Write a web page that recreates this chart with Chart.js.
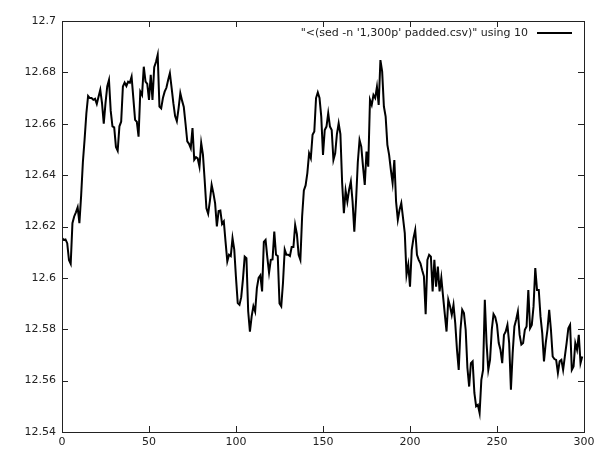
<!DOCTYPE html>
<html>
<head>
<meta charset="utf-8">
<script src="https://cdn.jsdelivr.net/npm/chart.js@4.4.0/dist/chart.umd.min.js"></script>
<style>
  html, body { margin: 0; padding: 0; background: #fff; }
  #chart { display: block; }
</style>
</head>
<body>
<canvas id="chart" width="600" height="450"></canvas>
<script>
// Series label (gnuplot key)
const seriesLabel = "\"<(sed -n '1,300p' padded.csv)\" using 10";

// Column 10 values, rows 0..299
const values = [
  12.6155, 12.6148, 12.6150, 12.6135, 12.6070, 12.6055, 12.6213, 12.6239, 12.6255, 12.6275,
  12.6213, 12.6320, 12.6450, 12.6540, 12.6640, 12.6708, 12.6700, 12.6700, 12.6693, 12.6697,
  12.6677, 12.6705, 12.6732, 12.6680, 12.6600, 12.6680, 12.6745, 12.6770, 12.6650, 12.6590,
  12.6586, 12.6510, 12.6495, 12.6590, 12.6608, 12.6745, 12.6760, 12.6747, 12.6764, 12.6760,
  12.6783, 12.6700, 12.6615, 12.6608, 12.6550, 12.6725, 12.6712, 12.6822, 12.6764, 12.6755,
  12.6693, 12.6790, 12.6693, 12.6820, 12.6840, 12.6868, 12.6667, 12.6660, 12.6700, 12.6725,
  12.6740, 12.6770, 12.6797, 12.6740, 12.6680, 12.6630, 12.6610, 12.6660, 12.6719, 12.6690,
  12.6665, 12.6600, 12.6531, 12.6522, 12.6505, 12.6583, 12.6460, 12.6470, 12.6465, 12.6433,
  12.6525, 12.6480, 12.6380, 12.6271, 12.6250, 12.6300, 12.6362, 12.6330, 12.6290, 12.6200,
  12.6260, 12.6262, 12.6210, 12.6220, 12.6140, 12.6064, 12.6090, 12.6085, 12.6155, 12.6110,
  12.6000, 12.5902, 12.5895, 12.5925, 12.5995, 12.6083, 12.6077, 12.5870, 12.5791, 12.5850,
  12.5890, 12.5869, 12.5960, 12.6000, 12.6010, 12.5947, 12.6140, 12.6148, 12.6080, 12.6020,
  12.6070, 12.6072, 12.6180, 12.6090, 12.6085, 12.5900, 12.5889, 12.5980, 12.6110, 12.6090,
  12.6090, 12.6085, 12.6120, 12.6120, 12.6206, 12.6170, 12.6090, 12.6070, 12.6239, 12.6340,
  12.6360, 12.6408, 12.6485, 12.6466, 12.6557, 12.6570, 12.6700, 12.6722, 12.6700, 12.6628,
  12.6479, 12.6576, 12.6589, 12.6641, 12.6589, 12.6576, 12.6459, 12.6485, 12.6560, 12.6602,
  12.6560, 12.6370, 12.6252, 12.6340, 12.6297, 12.6343, 12.6375, 12.6297, 12.6180, 12.6300,
  12.6450, 12.6537, 12.6511, 12.6433, 12.6362, 12.6492, 12.6433, 12.6693, 12.6673, 12.6712,
  12.6700, 12.6744, 12.6673, 12.6848, 12.6803, 12.6667, 12.6628, 12.6518, 12.6479, 12.6420,
  12.6369, 12.6459, 12.6297, 12.6226, 12.6265, 12.6291, 12.6233, 12.6174, 12.6012, 12.6051,
  12.5966, 12.6109, 12.6155, 12.6187, 12.6090, 12.6070, 12.6057, 12.6030, 12.6006, 12.5859,
  12.6070, 12.6090, 12.6083, 12.5947, 12.6070, 12.5966, 12.6044, 12.5947, 12.6000, 12.5928,
  12.5859, 12.5791, 12.5915, 12.5890, 12.5856, 12.5895, 12.5824, 12.5720, 12.5642, 12.5798,
  12.5876, 12.5863, 12.5798, 12.5649, 12.5577, 12.5668, 12.5675, 12.5552, 12.5500, 12.5506,
  12.5474, 12.5603, 12.5642, 12.5915, 12.5746, 12.5642, 12.5681, 12.5798, 12.5859, 12.5847,
  12.5817, 12.5746, 12.5720, 12.5668, 12.5778, 12.5791, 12.5817, 12.5746, 12.5565, 12.5707,
  12.5811, 12.5837, 12.5869, 12.5778, 12.5740, 12.5746, 12.5798, 12.5811, 12.5953, 12.5804,
  12.5817, 12.5889, 12.6038, 12.5953, 12.5953, 12.5850, 12.5785, 12.5675, 12.5746, 12.5798,
  12.5876, 12.5798, 12.5694, 12.5684, 12.5681, 12.5630, 12.5675, 12.5681, 12.5642, 12.5694,
  12.5746, 12.5804, 12.5817, 12.5642, 12.5655, 12.5746, 12.5720, 12.5778, 12.5668, 12.5694
];

// Tick labels
const xTicks = [0, 50, 100, 150, 200, 250, 300];
const yTicks = ["12.54", "12.56", "12.58", "12.6", "12.62", "12.64", "12.66", "12.68", "12.7"];

const points = values.map((v, i) => ({ x: i, y: v }));
const FONT = "'DejaVu Sans', sans-serif";
const INK = "#222";

// gnuplot-like frame, inward mirror ticks and key
const gnuplotFrame = {
  id: "gnuplotFrame",
  afterDraw(chart) {
    const { ctx, chartArea: a, scales } = chart;
    const tl = 6;
    ctx.save();
    ctx.strokeStyle = INK;
    ctx.lineWidth = 1;
    ctx.beginPath();
    xTicks.forEach(t => {
      const px = Math.round(scales.x.getPixelForValue(t)) + 0.5;
      ctx.moveTo(px, a.bottom); ctx.lineTo(px, a.bottom - tl);
      ctx.moveTo(px, a.top); ctx.lineTo(px, a.top + tl);
    });
    yTicks.forEach(t => {
      const py = Math.round(scales.y.getPixelForValue(parseFloat(t))) + 0.5;
      ctx.moveTo(a.left, py); ctx.lineTo(a.left + tl, py);
      ctx.moveTo(a.right, py); ctx.lineTo(a.right - tl, py);
    });
    ctx.stroke();
    ctx.strokeRect(Math.round(a.left) + 0.5, Math.round(a.top) + 0.5,
      Math.round(a.right - a.left), Math.round(a.bottom - a.top));

    // key, top right inside the frame
    const ky = a.top + 12;
    ctx.font = "11px " + FONT;
    ctx.fillStyle = INK;
    ctx.textAlign = "right";
    ctx.textBaseline = "middle";
    ctx.fillText(seriesLabel, a.right - 56, ky);
    ctx.strokeStyle = "#000";
    ctx.lineWidth = 2;
    ctx.beginPath();
    ctx.moveTo(a.right - 47, ky);
    ctx.lineTo(a.right - 12, ky);
    ctx.stroke();
    ctx.restore();
  }
};

new Chart(document.getElementById("chart").getContext("2d"), {
  type: "line",
  data: {
    datasets: [{
      label: seriesLabel,
      data: points,
      borderColor: "#000",
      borderWidth: 2,
      pointRadius: 0,
      tension: 0,
      fill: false
    }]
  },
  options: {
    responsive: false,
    animation: false,
    events: [],
    layout: { padding: { top: 21, right: 16, left: 0, bottom: 0 } },
    plugins: {
      legend: { display: false },
      tooltip: { enabled: false }
    },
    scales: {
      x: {
        type: "linear",
        min: 0,
        max: 300,
        afterBuildTicks: s => { s.ticks = xTicks.map(v => ({ value: v })); },
        afterFit: s => { s.height = 18; },
        grid: { display: false, drawTicks: false },
        border: { display: false },
        ticks: { padding: 4, color: INK, font: { family: FONT, size: 11 }, maxRotation: 0 }
      },
      y: {
        min: 12.54,
        max: 12.7,
        afterBuildTicks: s => { s.ticks = yTicks.map(t => ({ value: parseFloat(t) })); },
        afterFit: s => { s.width = 62; },
        grid: { display: false, drawTicks: false },
        border: { display: false },
        ticks: {
          padding: 6,
          color: INK,
          font: { family: FONT, size: 11 },
          callback: (v) => yTicks.find(t => Math.abs(parseFloat(t) - v) < 1e-6) || ""
        }
      }
    }
  },
  plugins: [gnuplotFrame]
});
</script>
</body>
</html>
